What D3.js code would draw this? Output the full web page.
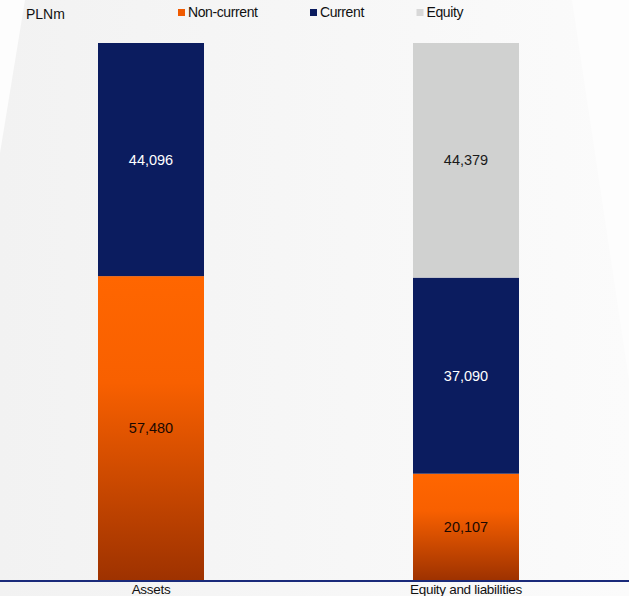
<!DOCTYPE html>
<html>
<head>
<meta charset="utf-8">
<script src="https://cdn.jsdelivr.net/npm/d3@7"></script>
<style>
  html, body { margin: 0; padding: 0; background: #fdfdfd; }
  svg { display: block; font-family: "Liberation Sans", Arial, sans-serif; }
</style>
</head>
<body>
<div id="chart"></div>
<script>
// chart data
const categories = ["Assets", "Equity and liabilities"];
const seriesNames = ["Non-current", "Current", "Equity"];
const nonCurrent = [57480, 20107];
const current = [44096, 37090];
const equity = [0, 44379];
const unitLabel = "PLNm";

const width = 629, height = 596;
const baseY = 580, topY = 43;

const rows = categories.map((c, i) => ({
    cat: c,
    "Non-current": nonCurrent[i],
    "Current": current[i],
    "Equity": equity[i]
}));

const stack = d3.stack().keys(seriesNames);
const layers = stack(rows);
const maxTotal = d3.max(rows, r => r["Non-current"] + r["Current"] + r["Equity"]);

const x = d3.scaleBand()
    .domain(categories)
    .range([3.5, 613.5])
    .paddingInner(0.6635)
    .paddingOuter(0.3);

const y = d3.scaleLinear()
    .domain([0, maxTotal])
    .range([baseY, topY]);

const svg = d3.select("#chart")
    .append("svg")
    .attr("width", width)
    .attr("height", height);

const defs = svg.append("defs");

const bg = defs.append("linearGradient")
    .attr("id", "bgGrad")
    .attr("x1", "0%").attr("x2", "100%").attr("y1", "0%").attr("y2", "0%");
bg.append("stop").attr("offset", "0%").attr("stop-color", "#f2f2f2");
bg.append("stop").attr("offset", "100%").attr("stop-color", "#fbfbfb");

const orange = defs.append("linearGradient")
    .attr("id", "orangeGrad")
    .attr("x1", "0%").attr("x2", "0%").attr("y1", "0%").attr("y2", "100%");
orange.append("stop").attr("offset", "0%").attr("stop-color", "#ff6600");
orange.append("stop").attr("offset", "35%").attr("stop-color", "#f86000");
orange.append("stop").attr("offset", "100%").attr("stop-color", "#9e3200");

// background shape
svg.append("rect")
    .attr("width", width).attr("height", height)
    .attr("fill", "#fdfdfd");
svg.append("polygon")
    .attr("points", "25,0 572,0 629,380 629,596 0,596 0,153")
    .attr("fill", "url(#bgGrad)");

const colors = {
    "Non-current": "url(#orangeGrad)",
    "Current": "#0b1c5f",
    "Equity": "#d0d1d0"
};
const textColors = {
    "Non-current": "#1a0800",
    "Current": "#ffffff",
    "Equity": "#1a1a1a"
};

layers.forEach(layer => {
    const key = layer.key;
    const g = svg.append("g");
    g.selectAll("rect")
        .data(layer.filter(d => d[1] > d[0]))
        .enter().append("rect")
        .attr("x", d => x(d.data.cat))
        .attr("y", d => y(d[1]))
        .attr("width", x.bandwidth())
        .attr("height", d => y(d[0]) - y(d[1]))
        .attr("fill", colors[key]);

    g.selectAll("text")
        .data(layer.filter(d => d[1] > d[0]))
        .enter().append("text")
        .attr("x", d => x(d.data.cat) + x.bandwidth() / 2)
        .attr("y", d => (y(d[0]) + y(d[1])) / 2)
        .attr("dy", "0.35em")
        .attr("text-anchor", "middle")
        .attr("font-size", 14.5)
        .attr("fill", textColors[key])
        .text(d => d3.format(",")(d[1] - d[0]));
});

// baseline
svg.append("line")
    .attr("x1", 0).attr("x2", width)
    .attr("y1", baseY + 1).attr("y2", baseY + 1)
    .attr("stroke", "#1a2a7a")
    .attr("stroke-width", 2);

// category labels
svg.append("g")
    .selectAll("text")
    .data(categories)
    .enter().append("text")
    .attr("x", d => x(d) + x.bandwidth() / 2)
    .attr("y", 594)
    .attr("text-anchor", "middle")
    .attr("font-size", 13.5)
    .attr("letter-spacing", -0.3)
    .attr("fill", "#111")
    .text(d => d);

// unit label
svg.append("text")
    .attr("x", 26).attr("y", 19)
    .attr("font-size", 14)
    .attr("fill", "#111")
    .text(unitLabel);

// legend
const legendX = [178, 310, 416.5];
const legendColors = ["#f05a00", "#0b1c5f", "#d8d8d8"];
const legend = svg.append("g")
    .selectAll("g")
    .data(seriesNames)
    .enter().append("g")
    .attr("transform", (d, i) => `translate(${legendX[i]},0)`);
legend.append("rect")
    .attr("x", 0).attr("y", 9)
    .attr("width", 7).attr("height", 7)
    .attr("fill", (d, i) => legendColors[i]);
legend.append("text")
    .attr("x", 10).attr("y", 17)
    .attr("font-size", 14)
    .attr("letter-spacing", -0.4)
    .attr("fill", "#111")
    .text(d => d);
</script>
</body>
</html>
